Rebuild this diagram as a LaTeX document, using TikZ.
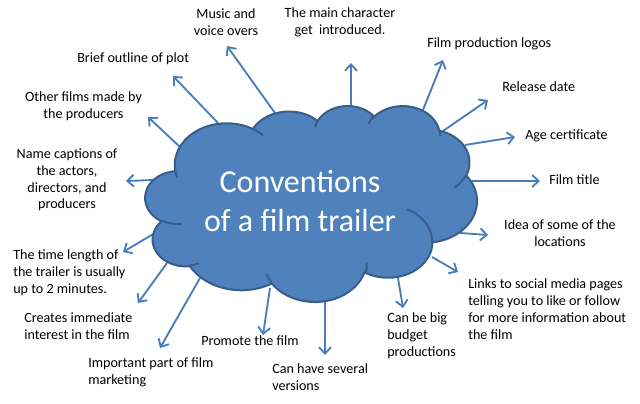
\documentclass[tikz,border=0pt]{standalone}
\usepackage{fontspec}
\setmainfont{Carlito}
\usetikzlibrary{arrows.meta}
\definecolor{cloudFill}{HTML}{4F81BD}
\definecolor{cloudEdge}{HTML}{385D8A}
\definecolor{arrowBlue}{HTML}{4A7EBB}
\newcommand\parang[4]{%
  \pgfmathsetmacro\paT{atan2((#2)*sin(#4),(#3)*cos(#4))}%
  \pgfmathsetmacro\paD{\paT-(#4)}%
  \pgfmathsetmacro\paD{\paD-360*round(\paD/360)}%
  \pgfmathsetmacro#1{(#4)+\paD}%
}
\tikzset{
  conv/.style={draw=arrowBlue, line width=1.4pt, -{Straight Barb[length=4.8pt,width=9pt]}},
  lbl/.style={inner sep=0pt, font=\fontsize{10.6pt}{12.6pt}\selectfont, text=black},
  cloudbody/.style={draw=cloudEdge, fill=cloudFill, line width=1.5pt, line join=round},
  cloudcrease/.style={draw=cloudEdge, line width=1.5pt, line cap=round},
  titletext/.style={inner sep=0pt, align=center, text=white, font=\fontsize{24pt}{29.3pt}\selectfont}
}
\begin{document}
\begin{tikzpicture}[x=0.75pt,y=-0.75pt]
\useasboundingbox (0,0) rectangle (640,404);
% arrow start points on the cloud and free tips
\coordinate (sMusic) at (275,113);   \coordinate (tMusic) at (227,46);
\coordinate (sMain) at (351,107);    \coordinate (tMain) at (351,63);
\coordinate (sLogos) at (423,110);   \coordinate (tLogos) at (443,60);
\coordinate (sRel) at (443,131);     \coordinate (tRel) at (488,100);
\coordinate (sAge) at (465,145);     \coordinate (tAge) at (515,137);
\coordinate (sTitle) at (472,181);   \coordinate (tTitle) at (540,181);
\coordinate (sIdea) at (460,233);    \coordinate (tIdea) at (488,235);
\coordinate (sLinks) at (432,257);   \coordinate (tLinks) at (458,272);
\coordinate (sBig) at (398,278);     \coordinate (tBig) at (403,308);
\coordinate (sVers) at (325,300);    \coordinate (tVers) at (325,355);
\coordinate (sProm) at (270,288);    \coordinate (tProm) at (263,335);
\coordinate (sImp) at (200,278);     \coordinate (tImp) at (160,348);
\coordinate (sCreate) at (167,263);  \coordinate (tCreate) at (138,303);
\coordinate (sTime) at (155,233);    \coordinate (tTime) at (123,252);
\coordinate (sName) at (153,180);    \coordinate (tName) at (126,181);
\coordinate (sOther) at (180,147);   \coordinate (tOther) at (148,117);
\coordinate (sBrief) at (218,123);   \coordinate (tBrief) at (173,76);
\foreach \n in {Music,Main,Logos,Rel,Age,Title,Idea,Links,Big,Vers,Prom,Imp,Create,Time,Name,Other,Brief}
  \draw[conv] (s\n) -- (t\n);
% cloud (Office "cloud" preset geometry)
\parang\CloudSa{67.53}{91.90}{-190.48748}\parang\CloudEa{67.53}{91.90}{-66.70695}
\parang\CloudSb{53.33}{72.67}{-144.10238}\parang\CloudEb{53.33}{72.67}{-54.15715}
\parang\CloudSc{43.65}{59.45}{-145.80792}\parang\CloudEc{43.65}{59.45}{-46.08490}
\parang\CloudSd{48.57}{65.95}{-130.98607}\parang\CloudEd{48.57}{65.95}{-13.74434}
\parang\CloudSe{53.33}{72.73}{-78.70888}\parang\CloudEe{53.33}{72.73}{30.31804}
\parang\CloudSf{67.75}{92.20}{-46.26725}\parang\CloudEf{67.75}{92.20}{84.00175}
\parang\CloudSg{57.85}{78.67}{0.62502}\parang\CloudEg{57.85}{78.67}{114.65835}
\parang\CloudSh{67.52}{92.15}{22.45160}\parang\CloudEh{67.52}{92.15}{137.62415}
\parang\CloudSi{77.20}{105.43}{66.24263}\parang\CloudEi{77.20}{105.43}{141.95365}
\parang\CloudSj{43.60}{59.18}{-274.94208}\parang\CloudEj{43.60}{59.18}{-128.20651}
\parang\CloudSk{43.45}{59.45}{-246.82850}\parang\CloudEk{43.45}{59.45}{-94.30965}
% creases
\parang\CrSa{43.45}{59.45}{86.742}\parang\CrEa{43.45}{59.45}{113.1715}
\parang\CrSb{43.60}{59.18}{73.6105}\parang\CrEb{43.60}{59.18}{85.058}
\parang\CrSc{67.52}{92.15}{137.6242}\parang\CrEc{67.52}{92.15}{151.7053}
\parang\CrSd{67.52}{92.15}{-6.4533}\parang\CrEd{67.52}{92.15}{11.2533}
\parang\CrSe{57.85}{78.67}{-70.2924}\parang\CrEe{57.85}{78.67}{0.625}
\parang\CrSf{53.33}{72.73}{30.3180}\parang\CrEf{53.33}{72.73}{58.0695}
\parang\CrSg{48.57}{65.95}{-13.7443}\parang\CrEg{48.57}{65.95}{1.1187}
\parang\CrSh{48.57}{65.95}{-149.1815}\parang\CrEh{48.57}{65.95}{-130.983}
\parang\CrSi{43.65}{59.45}{-163.4943}\parang\CrEi{43.65}{59.45}{-145.8033}
\parang\CrSj{67.53}{91.90}{-66.7070}\parang\CrEj{67.53}{91.90}{-54.3876}
\parang\CrSk{67.53}{91.90}{157.6544}\parang\CrEk{67.53}{91.90}{169.5126}
\begin{scope}[shift={(108.975pt,-79.05pt)}, x=0.575694pt, y=-0.340104pt]
\path[cloudbody] (39.00,143.70)
  arc[x radius=67.53, y radius=91.90, start angle=\CloudSa, end angle=\CloudEa]
  arc[x radius=53.33, y radius=72.67, start angle=\CloudSb, end angle=\CloudEb]
  arc[x radius=43.65, y radius=59.45, start angle=\CloudSc, end angle=\CloudEc]
  arc[x radius=48.57, y radius=65.95, start angle=\CloudSd, end angle=\CloudEd]
  arc[x radius=53.33, y radius=72.73, start angle=\CloudSe, end angle=\CloudEe]
  arc[x radius=67.75, y radius=92.20, start angle=\CloudSf, end angle=\CloudEf]
  arc[x radius=57.85, y radius=78.67, start angle=\CloudSg, end angle=\CloudEg]
  arc[x radius=67.52, y radius=92.15, start angle=\CloudSh, end angle=\CloudEh]
  arc[x radius=77.20, y radius=105.43, start angle=\CloudSi, end angle=\CloudEi]
  arc[x radius=43.60, y radius=59.18, start angle=\CloudSj, end angle=\CloudEj]
  arc[x radius=43.45, y radius=59.45, start angle=\CloudSk, end angle=\CloudEk]
  -- cycle;
\draw[cloudcrease] (46.93,261.77) arc[x radius=43.45, y radius=59.45, start angle=\CrSa, end angle=\CrEa];
\draw[cloudcrease] (69.28,348.99) arc[x radius=43.60, y radius=59.18, start angle=\CrSb, end angle=\CrEb];
\draw[cloudcrease] (164.78,390.90) arc[x radius=67.52, y radius=92.15, start angle=\CrSc, end angle=\CrEc];
\draw[cloudcrease] (288.27,347.51) arc[x radius=67.52, y radius=92.15, start angle=\CrSd, end angle=\CrEd];
\draw[cloudcrease] (341.29,229.54) arc[x radius=57.85, y radius=78.67, start angle=\CrSe, end angle=\CrEe];
\draw[cloudcrease] (417.98,153.54) arc[x radius=53.33, y radius=72.73, start angle=\CrSf, end angle=\CrEf];
\draw[cloudcrease] (383.24,54.26) arc[x radius=48.57, y radius=65.95, start angle=\CrSg, end angle=\CrEg];
\draw[cloudcrease] (290.78,39.52) arc[x radius=48.57, y radius=65.95, start angle=\CrSh, end angle=\CrEh];
\draw[cloudcrease] (221.41,47.20) arc[x radius=43.65, y radius=59.45, start angle=\CrSi, end angle=\CrEi];
\draw[cloudcrease] (140.00,51.92) arc[x radius=67.53, y radius=91.90, start angle=\CrSj, end angle=\CrEj];
\draw[cloudcrease] (41.27,157.89) arc[x radius=67.53, y radius=91.90, start angle=\CrSk, end angle=\CrEk];
\end{scope}
\node[titletext] (title) at (300,201) {Conventions\\of a film trailer};
% labels
\node[lbl, align=center] (music) at (226,22.5) {Music and\\voice overs};
\node[lbl, align=center] (main) at (340,22) {The main character\\get\ \ introduced.};
\node[lbl, anchor=west] (logos) at (427,44) {Film production logos};
\node[lbl, anchor=west] (release) at (502,87) {Release date};
\node[lbl, anchor=west] (age) at (525,136) {Age certificate};
\node[lbl, anchor=west] (filmtitle) at (549,180) {Film title};
\node[lbl, align=center] (idea) at (560,233) {Idea of some of the\\locations};
\node[lbl, anchor=west, align=left] (links) at (468,309) {Links to social media pages\\telling you to like or follow\\for more information about\\the film};
\node[lbl, anchor=west, align=left] (big) at (387,336) {Can be big\\budget\\productions};
\node[lbl, anchor=west, align=left] (versions) at (272,377.5) {Can have several\\versions};
\node[lbl, anchor=west] (promote) at (201,341) {Promote the film};
\node[lbl, anchor=west, align=left] (important) at (88,372) {Important part of film\\marketing};
\node[lbl, anchor=west, align=left] (creates) at (24,326.5) {Creates immediate\\interest in the film};
\node[lbl, anchor=west, align=left] (timelen) at (13,273) {The time length of\\the trailer is usually\\up to 2 minutes.};
\node[lbl, align=center] (names) at (67,180) {Name captions of\\the actors,\\directors, and\\producers};
\node[lbl, align=center] (other) at (83.5,106) {Other films made by\\the producers};
\node[lbl, anchor=west] (brief) at (77,59) {Brief outline of plot};
\end{tikzpicture}
\end{document}
